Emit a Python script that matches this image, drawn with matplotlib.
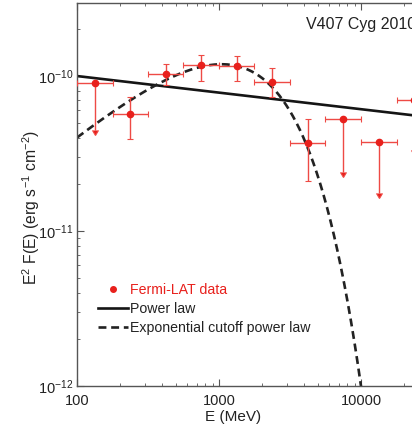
import numpy as np
import matplotlib
matplotlib.use('Agg')
import matplotlib.pyplot as plt
from matplotlib.lines import Line2D
from matplotlib.ticker import FuncFormatter, LogLocator

plt.rcParams['font.family'] = ['Liberation Sans', 'DejaVu Sans']
plt.rcParams['mathtext.default'] = 'regular'

# Fermi-LAT spectral points (MeV, erg s^-1 cm^-2)
energy = [133, 237, 422, 750, 1334, 2371, 4217, 7499, 13335, 23714]
e_low = [100, 178, 316, 562, 1000, 1778, 3162, 5623, 10000, 17783]
e_high = [178, 316, 562, 1000, 1778, 3162, 5623, 10000, 17783, 31623]
flux = [9.05e-11, 5.66e-11, 1.03e-10, 1.18e-10, 1.16e-10, 9.1e-11,
        3.72e-11, 5.26e-11, 3.77e-11, 7.0e-11]
flux_high = [9.05e-11, 7.36e-11, 1.19e-10, 1.36e-10, 1.35e-10, 1.12e-10,
             5.28e-11, 5.26e-11, 3.77e-11, 7.0e-11]
flux_low = [4.5e-11, 3.9e-11, 8.75e-11, 9.3e-11, 9.3e-11, 7.35e-11,
            2.11e-11, 2.42e-11, 1.77e-11, 3.33e-11]
upper_limit = [True, False, False, False, False, False, False, True, True, True]

# fitted models (E0 = 100 MeV)
pl_norm = 1.0e-10
pl_index = 2.107
cpl_norm = 4.31e-11
cpl_index = 1.244
cpl_cutoff = 1380.0

red = '#e8201c'

E = np.array(energy, dtype=float)
F = np.array(flux)
xerr = [E - np.array(e_low), np.array(e_high) - E]
yerr = [F - np.array(flux_low), np.array(flux_high) - F]
lim = np.array(upper_limit)

fig = plt.figure(figsize=(4.12, 4.29), dpi=100)
ax = fig.add_axes([77 / 412, 43 / 429, 426 / 412, 383 / 429])
ax.set_xscale('log')
ax.set_yscale('log')

grid = np.logspace(2, 5, 500)
ax.plot(grid, pl_norm * (grid / 100) ** (2 - pl_index), color='#151515', lw=1.9)
ax.plot(grid, cpl_norm * (grid / 100) ** (2 - cpl_index) * np.exp(-grid / cpl_cutoff),
        color='#222222', lw=1.9, ls=(0, (3, 1.8)))

ax.errorbar(E, F, xerr=xerr, yerr=yerr, uplims=lim, fmt='o', ms=4.5,
            color=red, ecolor='#ee4a45', elinewidth=1.0, capsize=2.5,
            capthick=0.8, zorder=3)

ax.set_xlim(100, 1e5)
ax.set_ylim(1e-12, 2.96e-10)
ax.xaxis.set_major_formatter(FuncFormatter(lambda v, p: '%d' % v if v <= 1e4 else ''))


def ylab(v, p):
    if v < 0.99e-12 or v > 1.01e-10:
        return ''
    return '$10^{%d}$' % round(np.log10(v))


ax.yaxis.set_major_formatter(FuncFormatter(ylab))
ax.yaxis.set_minor_locator(LogLocator(base=10, subs=np.arange(2, 10)))

for sp in ax.spines.values():
    sp.set_color('#555555')
    sp.set_linewidth(1.0)
ax.tick_params(which='both', direction='in', top=True, right=True,
               colors='#555555', labelcolor='#222222', labelsize=10.5)
ax.tick_params(which='major', length=5)
ax.tick_params(which='minor', length=2.5)
ax.tick_params(axis='x', pad=6)
ax.tick_params(axis='y', pad=2.5)

fig.text(233 / 412, 1 - 417 / 429, 'E (MeV)', fontsize=11, color='#222222',
         ha='center', va='center')
fig.text(31 / 412, 1 - 207.5 / 429, 'E$^2$ F(E) (erg s$^{-1}$ cm$^{-2}$)',
         fontsize=11.3, color='#222222', rotation=90, ha='center', va='center')

fig.text(306 / 412, 1 - 25 / 429, 'V407 Cyg 2010', fontsize=11.5,
         color='#222222', ha='left', va='center')

handles = [
    Line2D([], [], marker='o', ls='none', color=red, ms=4),
    Line2D([], [], color='#151515', lw=1.9),
    Line2D([], [], color='#222222', lw=1.9, ls=(0, (3, 1.8))),
]
labels = ['Fermi-LAT data', 'Power law', 'Exponential cutoff power law']
leg = ax.legend(handles, labels, loc='upper left',
                bbox_to_anchor=((98 - 77) / 426, (386 - 283) / 383),
                frameon=False, fontsize=10.2, borderpad=0, borderaxespad=0,
                handlelength=2.1, handletextpad=0.15, labelspacing=0.36)
for txt, col in zip(leg.get_texts(), [red, '#222222', '#222222']):
    txt.set_color(col)

fig.savefig('out.png', dpi=100)
